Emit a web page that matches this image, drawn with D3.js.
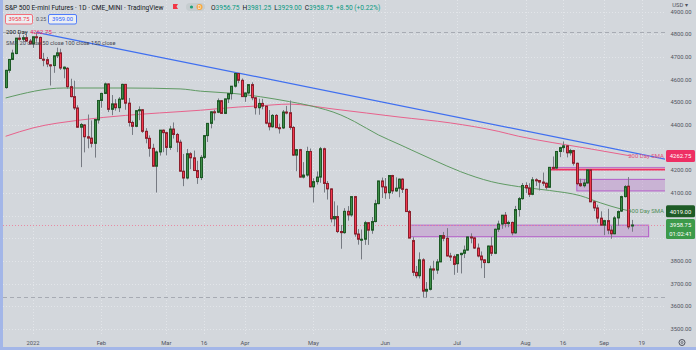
<!DOCTYPE html>
<html>
<head>
<meta charset="utf-8">
<script src="https://cdn.jsdelivr.net/npm/d3@7"></script>
<style>
  html, body { margin: 0; padding: 0; background: #d3d7dc; }
  svg { display: block; font-family: Roboto, "Liberation Sans", sans-serif; }
</style>
</head>
<body>
<svg id="chart" width="696" height="350"></svg>
<script>
// Daily E-mini S&P 500 bars: [session, open, high, low, close]
const candles = [
  ["2021-12-21",4565,4643,4560,4641],["2021-12-22",4641,4690,4630,4689],["2021-12-23",4689,4732,4686,4717],
  ["2021-12-27",4715,4783,4712,4783],["2021-12-28",4783,4800,4772,4778],["2021-12-29",4778,4796,4768,4785],
  ["2021-12-30",4785,4800,4767,4770],["2021-12-31",4770,4779,4755,4758],
  ["2022-01-03",4758,4789,4740,4789],["2022-01-04",4789,4808.25,4767,4786],["2022-01-05",4786,4790,4691,4693],
  ["2022-01-06",4690,4718,4659,4688],["2022-01-07",4688,4700,4655,4669],["2022-01-10",4665,4668,4574,4662],
  ["2022-01-11",4662,4706,4630,4705],["2022-01-12",4705,4741,4695,4718],["2022-01-13",4718,4736,4643,4651],
  ["2022-01-14",4648,4658,4606,4655],["2022-01-18",4650,4655,4560,4569],["2022-01-19",4569,4604,4522,4525],
  ["2022-01-20",4525,4595,4466,4475],["2022-01-21",4475,4487,4388,4390],["2022-01-24",4390,4409,4214,4402],
  ["2022-01-25",4400,4403,4279,4348],["2022-01-26",4348,4446,4297,4342],["2022-01-27",4342,4420,4301,4319],
  ["2022-01-28",4319,4424,4256,4424],["2022-01-31",4422,4508,4406,4508],
  ["2022-02-01",4508,4542,4476,4539],["2022-02-02",4539,4587,4536,4581],["2022-02-03",4581,4583,4457,4469],
  ["2022-02-04",4469,4532,4443,4493],["2022-02-07",4493,4514,4463,4476],["2022-02-08",4476,4523,4457,4514],
  ["2022-02-09",4514,4582,4510,4579],["2022-02-10",4579,4581,4467,4496],["2022-02-11",4496,4519,4393,4411],
  ["2022-02-14",4411,4419,4356,4394],["2022-02-15",4394,4465,4390,4463],["2022-02-16",4463,4482,4421,4467],
  ["2022-02-17",4467,4470,4365,4372],["2022-02-18",4372,4386,4319,4341],["2022-02-22",4341,4354,4260,4297],
  ["2022-02-23",4297,4317,4215,4218],["2022-02-24",4218,4287,4102,4281],["2022-02-25",4281,4377,4265,4377],
  ["2022-02-28",4377,4380,4280,4366],
  ["2022-03-01",4366,4370,4266,4301],["2022-03-02",4301,4396,4290,4382],["2022-03-03",4382,4411,4340,4358],
  ["2022-03-04",4358,4365,4280,4324],["2022-03-07",4324,4335,4194,4196],["2022-03-08",4196,4272,4130,4166],
  ["2022-03-09",4166,4294,4160,4273],["2022-03-10",4273,4280,4205,4255],["2022-03-11",4255,4287,4198,4199],
  ["2022-03-14",4199,4242,4140,4168],["2022-03-15",4168,4267,4157,4257],["2022-03-16",4257,4353,4250,4353],
  ["2022-03-17",4353,4408,4325,4407],["2022-03-18",4407,4460,4385,4458],["2022-03-21",4458,4467,4420,4456],
  ["2022-03-22",4456,4517,4452,4507],["2022-03-23",4507,4510,4450,4451],["2022-03-24",4451,4516,4448,4515],
  ["2022-03-25",4515,4541,4497,4538],["2022-03-28",4538,4570,4512,4571],["2022-03-29",4571,4632,4565,4627],
  ["2022-03-30",4627,4628,4584,4597],["2022-03-31",4597,4605,4525,4525],
  ["2022-04-01",4525,4543,4502,4541],["2022-04-04",4541,4578,4535,4578],["2022-04-05",4578,4588,4509,4520],
  ["2022-04-06",4520,4522,4446,4476],["2022-04-07",4476,4516,4445,4495],["2022-04-08",4495,4515,4469,4483],
  ["2022-04-11",4483,4485,4403,4408],["2022-04-12",4408,4466,4376,4392],["2022-04-13",4392,4448,4388,4442],
  ["2022-04-14",4442,4448,4387,4388],["2022-04-18",4388,4406,4362,4387],["2022-04-19",4387,4466,4382,4457],
  ["2022-04-20",4457,4484,4447,4454],["2022-04-21",4454,4508,4379,4389],["2022-04-22",4389,4395,4263,4267],
  ["2022-04-25",4267,4294,4196,4291],["2022-04-26",4291,4295,4168,4170],["2022-04-27",4170,4236,4164,4179],
  ["2022-04-28",4179,4304,4172,4283],["2022-04-29",4283,4296,4124,4127],
  ["2022-05-02",4127,4165,4058,4150],["2022-05-03",4150,4195,4137,4170],["2022-05-04",4170,4303,4145,4295],
  ["2022-05-05",4295,4300,4102,4142],["2022-05-06",4142,4153,4071,4118],["2022-05-09",4118,4120,3970,3986],
  ["2022-05-10",3986,4063,3953,3996],["2022-05-11",3996,4045,3923,3930],["2022-05-12",3930,3959,3854,3925],
  ["2022-05-13",3925,4033,3920,4019],["2022-05-16",4019,4042,3978,4003],["2022-05-17",4003,4085,3995,4084],
  ["2022-05-18",4084,4087,3907,3919],["2022-05-19",3919,3941,3872,3896],["2022-05-20",3896,3939,3807,3896],
  ["2022-05-23",3896,3977,3871,3969],["2022-05-24",3969,3971,3871,3936],["2022-05-25",3936,3994,3920,3974],
  ["2022-05-26",3974,4070,3970,4053],["2022-05-27",4053,4154,4050,4153],["2022-05-31",4153,4168,4078,4127],
  ["2022-06-01",4127,4166,4074,4101],["2022-06-02",4101,4177,4074,4177],["2022-06-03",4177,4180,4096,4109],
  ["2022-06-06",4109,4169,4105,4121],["2022-06-07",4121,4164,4081,4161],["2022-06-08",4161,4165,4100,4116],
  ["2022-06-09",4116,4119,4017,4018],["2022-06-10",4018,4025,3901,3901],["2022-06-13",3890,3905,3734,3750],
  ["2022-06-14",3750,3778,3724,3735],["2022-06-15",3735,3838,3723,3805],["2022-06-16",3805,3812,3640,3667],
  ["2022-06-17",3667,3707,3639,3675],["2022-06-21",3675,3779,3670,3765],["2022-06-22",3765,3801,3717,3760],
  ["2022-06-23",3760,3808,3743,3796],["2022-06-24",3796,3913,3795,3912],["2022-06-27",3912,3928,3887,3900],
  ["2022-06-28",3900,3945,3820,3822],["2022-06-29",3822,3836,3800,3819],["2022-06-30",3819,3828,3739,3785],
  ["2022-07-01",3788,3830,3748,3828],["2022-07-05",3828,3836,3745,3834],["2022-07-06",3834,3868,3813,3848],
  ["2022-07-07",3848,3908,3845,3906],["2022-07-08",3906,3922,3878,3902],["2022-07-11",3902,3905,3853,3857],
  ["2022-07-12",3857,3877,3816,3822],["2022-07-13",3822,3842,3768,3805],["2022-07-14",3805,3808,3725,3793],
  ["2022-07-15",3793,3868,3790,3866],["2022-07-18",3866,3906,3822,3834],["2022-07-19",3834,3943,3830,3940],
  ["2022-07-20",3940,3978,3928,3963],["2022-07-21",3963,4002,3942,4002],["2022-07-22",4002,4016,3948,3965],
  ["2022-07-25",3965,3978,3949,3970],["2022-07-26",3970,3974,3913,3924],["2022-07-27",3924,4043,3920,4027],
  ["2022-07-28",4027,4082,3996,4075],["2022-07-29",4075,4144,4070,4133],
  ["2022-08-01",4133,4147,4100,4122],["2022-08-02",4122,4143,4082,4094],["2022-08-03",4094,4170,4090,4158],
  ["2022-08-04",4158,4165,4131,4155],["2022-08-05",4155,4157,4111,4148],["2022-08-08",4148,4190,4131,4143],
  ["2022-08-09",4143,4146,4115,4125],["2022-08-10",4125,4214,4122,4213],["2022-08-11",4213,4261,4204,4210],
  ["2022-08-12",4210,4283,4205,4283],["2022-08-15",4283,4304,4258,4300],["2022-08-16",4300,4327.5,4280,4308],
  ["2022-08-17",4308,4310,4257,4277],["2022-08-18",4277,4295,4265,4287],["2022-08-19",4287,4290,4221,4231],
  ["2022-08-22",4231,4234,4134,4141],["2022-08-23",4141,4163,4127,4132],["2022-08-24",4132,4160,4124,4144],
  ["2022-08-25",4144,4203,4141,4202],["2022-08-26",4202,4206,4060,4061],["2022-08-29",4061,4065,4020,4034],
  ["2022-08-30",4034,4048,3969,3989],["2022-08-31",3989,4019,3957,3958],
  ["2022-09-01",3958,3982,3914,3978],["2022-09-02",3978,4030,3918,3936],["2022-09-06",3936,3954,3898,3920],
  ["2022-09-07",3920,3998,3918,3990],["2022-09-08",3990,4023,3955,4018],["2022-09-09",4020,4088,4016,4084],
  ["2022-09-12",4084,4135,4080,4128],["2022-09-13",4130,4170,3940,3950.25],["2022-09-14",3956.75,3981.25,3929,3958.75]
];

// Sessions after the last bar, so drawings can run into the empty right margin
const upcomingSessions = ["2022-09-15","2022-09-16","2022-09-19","2022-09-20","2022-09-21","2022-09-22","2022-09-23","2022-09-26"];

// Moving averages, sampled by session
const sma100 = [
  ["2021-12-21",4519],["2022-01-14",4563],["2022-02-10",4563],["2022-03-07",4559],["2022-03-15",4549],
  ["2022-03-28",4540],["2022-04-21",4503],["2022-04-29",4485],["2022-05-12",4444],["2022-05-18",4415],
  ["2022-05-27",4356],["2022-06-07",4315],["2022-06-22",4246],["2022-07-05",4194],["2022-07-18",4150],
  ["2022-07-28",4128],["2022-08-10",4111],["2022-08-23",4088],["2022-08-31",4056],["2022-09-09",4029],
  ["2022-09-14",4019]
];
const sma200 = [
  ["2021-12-21",4350],["2022-01-03",4387],["2022-01-24",4422],["2022-02-10",4442],["2022-02-25",4453],
  ["2022-03-15",4465],["2022-03-30",4479],["2022-04-07",4484],["2022-04-21",4492],["2022-05-10",4470],
  ["2022-06-07",4435],["2022-06-29",4409],["2022-07-20",4372],["2022-07-28",4350],["2022-08-11",4322],
  ["2022-08-25",4297],["2022-09-14",4262.75]
];

const priceTicks = [3500, 3600, 3700, 3800, 3900, 4000, 4100, 4200, 4300, 4400, 4500, 4600, 4700, 4800, 4900];
const timeTicks = [
  ["2022-01-03","2022"],["2022-02-01","Feb"],["2022-03-01","Mar"],["2022-03-16","16"],["2022-04-01","Apr"],
  ["2022-05-02","May"],["2022-06-01","Jun"],["2022-07-01","Jul"],["2022-08-01","Aug"],["2022-08-16","16"],
  ["2022-09-01","Sep"],["2022-09-19","19"]
];

// Drawings
const trendAnchors = [["2022-01-04",4808.25],["2022-03-29",4632]];
const rangeHigh = 4808.25, rangeLow = 3639;
const supportZone = { from: "2022-06-10", to: "2022-09-21", top: 3958, bottom: 3907 };
const resistanceZone = { from: "2022-08-22", top: 4160, bottom: 4109 };
const resistanceBand = { from: "2022-08-10", top: 4213, bottom: 4203 };

// Quote
const quote = { open: 3956.75, high: 3981.25, low: 3929.00, close: 3958.75, change: 8.50, pct: 0.22 };
const bid = 3958.75, ask = 3959.00, spread = 0.25;
const countdown = "01:02:41";
const sma200Last = 4262.75, sma100Last = 4019.00;

// ---------------------------------------------------------------
const W = 696, H = 350;
const plot = { left: 3, right: 665, top: 0, bottom: 336 };
const svg = d3.select("#chart");

const sessions = candles.map(d => d[0]).concat(upcomingSessions);
const pos = new Map(sessions.map((d, i) => [d, i]));
const x = d3.scaleLinear()
  .domain([pos.get("2022-01-03"), pos.get("2022-09-19")])
  .range([33, 641.8]);
const y = d3.scaleLinear().domain([3500, 4900]).range([329, 11.6]);
const xs = s => x(pos.get(s));
const fmt = d3.format(".2f");

svg.append("rect").attr("width", W).attr("height", H).attr("fill", "#d3d7dc");

svg.append("defs").append("clipPath").attr("id", "plotClip")
  .append("rect").attr("x", plot.left).attr("y", plot.top)
  .attr("width", plot.right - plot.left).attr("height", plot.bottom - plot.top);

const g = svg.append("g").attr("clip-path", "url(#plotClip)");

// grid
g.append("g").selectAll("line").data(priceTicks).join("line")
  .attr("x1", plot.left).attr("x2", plot.right)
  .attr("y1", d => Math.round(y(d)) + 0.5).attr("y2", d => Math.round(y(d)) + 0.5)
  .attr("stroke", "#e2e5e9").attr("stroke-width", 1).attr("stroke-dasharray", "1,2");
g.append("g").selectAll("line").data(timeTicks).join("line")
  .attr("x1", d => Math.round(xs(d[0])) + 0.5).attr("x2", d => Math.round(xs(d[0])) + 0.5)
  .attr("y1", plot.top).attr("y2", plot.bottom)
  .attr("stroke", "#e2e5e9").attr("stroke-width", 1).attr("stroke-dasharray", "1,2");

// legend block (sits under the bars)
const legend = svg.append("g").attr("font-size", 6);
legend.append("text").attr("x", 6).attr("y", 33.5).attr("fill", "#131722").text("200 Day");
legend.append("text").attr("x", 30).attr("y", 33.5).attr("fill", "#e91e63").text(fmt(sma200Last));
legend.append("text").attr("x", 6).attr("y", 44.5).attr("fill", "#434651").attr("font-size", 5.7)
  .text("SMA 20 close 50 close 100 close 150 close");

// zones
g.append("rect")
  .attr("x", xs(supportZone.from)).attr("width", xs(supportZone.to) - xs(supportZone.from))
  .attr("y", y(supportZone.top)).attr("height", y(supportZone.bottom) - y(supportZone.top))
  .attr("fill", "rgba(171,71,188,0.25)").attr("stroke", "#b35cc8").attr("stroke-width", 1);
g.append("rect")
  .attr("x", xs(resistanceZone.from)).attr("width", plot.right + 2 - xs(resistanceZone.from))
  .attr("y", y(resistanceZone.top)).attr("height", y(resistanceZone.bottom) - y(resistanceZone.top))
  .attr("fill", "rgba(171,71,188,0.25)").attr("stroke", "#b35cc8").attr("stroke-width", 1);
g.append("rect")
  .attr("x", xs(resistanceBand.from)).attr("width", plot.right + 2 - xs(resistanceBand.from))
  .attr("y", y(resistanceBand.top)).attr("height", y(resistanceBand.bottom) - y(resistanceBand.top))
  .attr("fill", "rgba(236,120,170,0.35)").attr("stroke", "#b35cc8").attr("stroke-width", 0.8);
g.append("line")
  .attr("x1", xs(resistanceBand.from)).attr("x2", plot.right)
  .attr("y1", y(resistanceBand.bottom)).attr("y2", y(resistanceBand.bottom))
  .attr("stroke", "#f0305f").attr("stroke-width", 1.6);

// range high / low lines
g.append("g").selectAll("line").data([rangeHigh, rangeLow]).join("line")
  .attr("x1", plot.left).attr("x2", plot.right)
  .attr("y1", d => Math.round(y(d)) + 0.5).attr("y2", d => Math.round(y(d)) + 0.5)
  .attr("stroke", "#a7abb3").attr("stroke-width", 1).attr("stroke-dasharray", "4,3");

// last price line
g.append("line").attr("x1", plot.left).attr("x2", plot.right)
  .attr("y1", Math.round(y(quote.close)) + 0.5).attr("y2", Math.round(y(quote.close)) + 0.5)
  .attr("stroke", "#e88aa3").attr("stroke-width", 1).attr("stroke-dasharray", "1,2");

// moving averages
const maLine = d3.line().x(d => xs(d[0])).y(d => y(d[1])).curve(d3.curveMonotoneX);
g.append("path").attr("d", maLine(sma200)).attr("fill", "none")
  .attr("stroke", "#e8628c").attr("stroke-width", 1);
g.append("path").attr("d", maLine(sma100)).attr("fill", "none")
  .attr("stroke", "#5f9a63").attr("stroke-width", 1);

// trendline through two highs, extended to the right edge
const [a, b] = trendAnchors;
const ia = pos.get(a[0]), ib = pos.get(b[0]);
const slope = (b[1] - a[1]) / (ib - ia);
const iEnd = x.invert(plot.right + 2);
g.append("line")
  .attr("x1", x(ia)).attr("y1", y(a[1]))
  .attr("x2", x(iEnd)).attr("y2", y(a[1] + slope * (iEnd - ia)))
  .attr("stroke", "#3f6ff0").attr("stroke-width", 1.2);

// candles
const bars = g.append("g");
const cx = d => Math.round(xs(d[0]));
bars.selectAll("line").data(candles).join("line")
  .attr("x1", d => cx(d) + 0.5).attr("x2", d => cx(d) + 0.5)
  .attr("y1", d => y(d[2])).attr("y2", d => y(d[3]))
  .attr("stroke", "#767a82").attr("stroke-width", 1);
bars.selectAll("rect").data(candles).join("rect")
  .attr("x", d => cx(d) - 0.5).attr("width", 2)
  .attr("y", d => y(Math.max(d[1], d[4])))
  .attr("height", d => Math.max(1, Math.abs(y(d[1]) - y(d[4]))))
  .attr("fill", d => d[4] >= d[1] ? "#3e8e48" : "#f2384f")
  .attr("stroke", d => d[4] >= d[1] ? "#1d5a26" : "#8c1f2c")
  .attr("stroke-width", 1);

// labels on the right side of the plot
svg.append("text").attr("x", 664).attr("y", y(sma200Last) + 2.1).attr("font-size", 6)
  .attr("text-anchor", "end").attr("fill", "#e4507c").text("200 Day SMA");
svg.append("text").attr("x", 664).attr("y", y(sma100Last) + 2.1).attr("font-size", 6)
  .attr("text-anchor", "end").attr("fill", "#4f8d56").text("100 Day SMA");

// price tags on the axis
const tags = [
  { value: sma200Last, fill: "#ee2f64", lines: [fmt(sma200Last)], h: 12 },
  { value: sma100Last, fill: "#1e5b26", lines: [fmt(sma100Last)], h: 12 },
  { value: quote.close, fill: "#3c9a4a", lines: [fmt(quote.close), countdown], h: 20 }
];
const tagTop = t => y(t.value) - 6;

// price axis: tick labels that would sit under a tag are left out
const axis = svg.append("g").attr("font-size", 5.8).attr("fill", "#50535e");
const freeTicks = priceTicks.filter(p => {
  const yy = y(p);
  if (yy < 10) return false;
  return !tags.some(t => yy > tagTop(t) - 4 && yy < tagTop(t) + t.h + 4);
});
axis.selectAll("text").data(freeTicks).join("text")
  .attr("x", 681).attr("y", d => y(d) + 2).attr("text-anchor", "middle")
  .text(d => fmt(d));

tags.forEach(t => {
  const top = tagTop(t);
  svg.append("rect").attr("x", 666).attr("y", top).attr("width", 29).attr("height", t.h)
    .attr("rx", 1.5).attr("fill", t.fill);
  t.lines.forEach((s, i) => {
    svg.append("text").attr("x", 680.5).attr("y", top + 8.3 + i * 8.5).attr("text-anchor", "middle")
      .attr("font-size", 5.9).attr("fill", "#ffffff").text(s);
  });
});

svg.append("text").attr("x", 680).attr("y", 7).attr("text-anchor", "middle").attr("font-size", 5.8)
  .attr("fill", "#50535e").text("USD \u25BE");

// time axis
svg.append("g").attr("font-size", 5.8).attr("fill", "#50535e")
  .selectAll("text").data(timeTicks).join("text")
  .attr("x", d => xs(d[0])).attr("y", 344.5).attr("text-anchor", "middle").text(d => d[1]);

// settings gear
const gear = svg.append("g").attr("transform", "translate(682,342.5)");
gear.append("circle").attr("r", 3).attr("fill", "none").attr("stroke", "#50535e").attr("stroke-width", 1);
gear.append("circle").attr("r", 1).attr("fill", "none").attr("stroke", "#50535e").attr("stroke-width", 0.7);

// header
const head = svg.append("g");
head.append("text").attr("x", 5).attr("y", 9.5).attr("font-size", 6.6).attr("fill", "#131722")
  .text("S&P 500 E-mini Futures \u00B7 1D \u00B7 CME_MINI \u00B7 TradingView");
head.append("path").attr("d", "M173,4 h5 l-1.5,2.5 l1.5,2.5 h-5 z").attr("fill", "#f23645");
head.append("rect").attr("x", 186).attr("y", 3).attr("width", 19).attr("height", 8).attr("rx", 4).attr("fill", "#c6cdd0");
head.append("circle").attr("cx", 191.5).attr("cy", 7).attr("r", 1.6).attr("fill", "#1f9f75");
head.append("circle").attr("cx", 199.5).attr("cy", 7).attr("r", 3).attr("fill", "#f7a541");
head.append("text").attr("x", 199.5).attr("y", 9).attr("text-anchor", "middle").attr("font-size", 4.8)
  .attr("fill", "#ffffff").text("D");

const ohlc = head.append("text").attr("x", 211).attr("y", 9.5).attr("font-size", 6.6);
[["O", quote.open], ["H", quote.high], ["L", quote.low], ["C", quote.close]].forEach(([k, v], i) => {
  ohlc.append("tspan").attr("fill", "#131722").attr("dx", i ? 3 : 0).text(k);
  ohlc.append("tspan").attr("fill", "#089981").text(fmt(v));
});
ohlc.append("tspan").attr("fill", "#089981").attr("dx", 3)
  .text(`+${fmt(quote.change)} (+${fmt(quote.pct)}%)`);

// bid / ask
head.append("rect").attr("x", 5.5).attr("y", 14.5).attr("width", 27).attr("height", 9.5).attr("rx", 1.5)
  .attr("fill", "#eceef2").attr("stroke", "#f7525f").attr("stroke-width", 0.8);
head.append("text").attr("x", 19).attr("y", 21.4).attr("text-anchor", "middle").attr("font-size", 5.8)
  .attr("fill", "#f23645").text(fmt(bid));
head.append("text").attr("x", 41).attr("y", 21.4).attr("text-anchor", "middle").attr("font-size", 5.2)
  .attr("fill", "#50535e").text(fmt(spread));
head.append("rect").attr("x", 48.5).attr("y", 14.5).attr("width", 28).attr("height", 9.5).attr("rx", 1.5)
  .attr("fill", "#eceef2").attr("stroke", "#2962ff").attr("stroke-width", 0.8);
head.append("text").attr("x", 62.5).attr("y", 21.4).attr("text-anchor", "middle").attr("font-size", 5.8)
  .attr("fill", "#2962ff").text(fmt(ask));

// frame on the left and bottom edges
svg.append("rect").attr("x", 0).attr("y", 0).attr("width", 3).attr("height", H).attr("fill", "#a3b6e8");
svg.append("rect").attr("x", 0).attr("y", H - 3).attr("width", W).attr("height", 3).attr("fill", "#a3b6e8");
</script>
</body>
</html>
